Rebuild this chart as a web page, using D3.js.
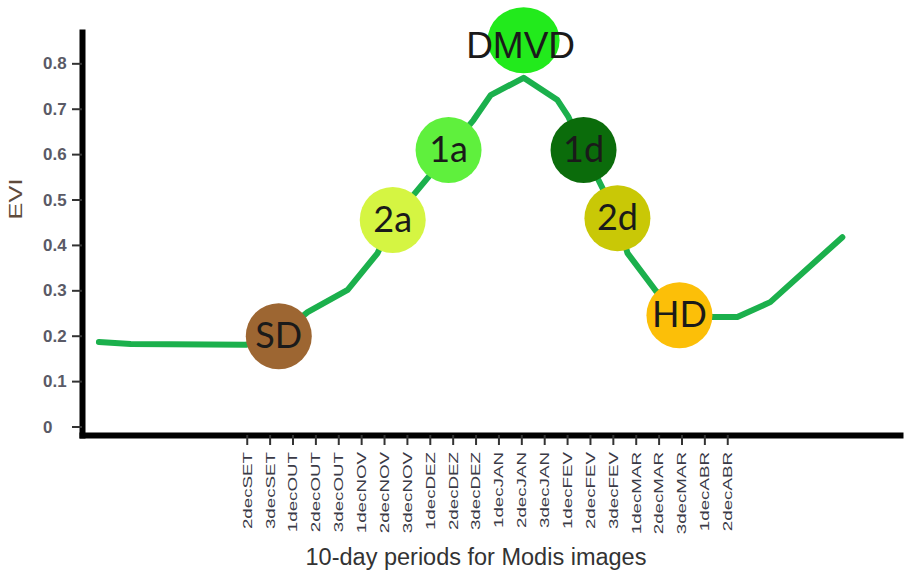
<!DOCTYPE html>
<html>
<head>
<meta charset="utf-8">
<script src="https://cdn.jsdelivr.net/npm/d3@7"></script>
<style>
  html, body { margin: 0; padding: 0; background: #fff; }
  svg { display: block; }
</style>
</head>
<body>
<svg id="chart" width="906" height="573"></svg>
<script>
// ---- data ----
const periods = ["2decSET","3decSET","1decOUT","2decOUT","3decOUT","1decNOV","2decNOV","3decNOV",
  "1decDEZ","2decDEZ","3decDEZ","1decJAN","2decJAN","3decJAN","1decFEV","2decFEV","3decFEV",
  "1decMAR","2decMAR","3decMAR","1decABR","2decABR"];
const yTicks = [0, 0.1, 0.2, 0.3, 0.4, 0.5, 0.6, 0.7, 0.8];

// EVI profile (x in 10-day period units, 0 = 2decSET)
const curvePeriod = [-6.46, -5.07, -0.04, 1.40, 2.66, 4.41, 5.72, 6.38, 7.90, 8.82, 9.91, 10.66,
  12.10, 13.58, 14.06, 14.72, 16.20, 16.64, 17.86, 18.91, 20.39, 21.44, 22.88, 26.03];
const curveEVI = [0.186, 0.182, 0.180, 0.200, 0.252, 0.301, 0.382, 0.455, 0.547, 0.609, 0.675, 0.730,
  0.768, 0.719, 0.682, 0.609, 0.459, 0.382, 0.300, 0.245, 0.241, 0.241, 0.274, 0.417];

// phenological stages
const stageNames = ["SD", "2a", "1a", "DMVD", "1d", "2d", "HD"];
const stagePeriod = [1.40, 6.38, 8.82, 12.10, 14.72, 16.20, 18.91];
const stageEVI = [0.199, 0.455, 0.609, 0.851, 0.609, 0.459, 0.245];
const stageColors = ["#9d6632", "#d5f542", "#5ff03d", "#22ea1c", "#0b6c0b", "#c9c806", "#fcbf08"];

// ---- drawing ----
const svg = d3.select("#chart");
const x = d3.scaleLinear().domain([-7.2, 28.55]).range([82, 900]);
const y = d3.scaleLinear().domain([-0.0187, 0.869]).range([435, 32]);

// line
const line = d3.line().x((d, i) => x(curvePeriod[i])).y(d => y(d));
svg.append("path")
  .datum(curveEVI)
  .attr("d", line)
  .attr("fill", "none")
  .attr("stroke", "#1bb04c")
  .attr("stroke-width", 6)
  .attr("stroke-linejoin", "round")
  .attr("stroke-linecap", "round");

// stage markers
const stages = stageNames.map((n, i) => ({ name: n, px: stagePeriod[i], v: stageEVI[i], c: stageColors[i] }));
const g = svg.append("g");
g.selectAll("ellipse").data(stages).join("ellipse")
  .attr("cx", d => x(d.px))
  .attr("cy", d => y(d.v))
  .attr("rx", d => d.name === "DMVD" ? 36 : 33)
  .attr("ry", 33)
  .attr("fill", d => d.c);
g.selectAll("text").data(stages).join("text")
  .attr("x", d => x(d.px) + (d.name === "DMVD" ? -3 : 0))
  .attr("y", d => y(d.v) + (d.name === "DMVD" ? 18 : 12))
  .attr("text-anchor", "middle")
  .attr("font-family", d => d.name === "DMVD" ? "Liberation Sans, Arial, sans-serif" : "Lato, 'Open Sans', sans-serif")
  .attr("font-size", d => d.name === "DMVD" ? 37 : 36)
  .attr("fill", "#1a1a1a")
  .text(d => d.name);

// y axis
const yAxis = svg.append("g")
  .attr("transform", "translate(82,0)")
  .call(d3.axisLeft(y).tickValues(yTicks).tickSize(10).tickSizeOuter(0)
    .tickFormat(d => d === 0 ? "0" : d3.format(".1f")(d)));
yAxis.select(".domain").attr("stroke", "#000").attr("stroke-width", 6).attr("stroke-linecap", "square");
yAxis.selectAll(".tick line").attr("stroke", "#333").attr("stroke-width", 2);
yAxis.selectAll(".tick text")
  .attr("x", 0).attr("dy", "0.35em")
  .attr("text-anchor", "start")
  .attr("transform", "translate(-39,0) scale(1.06,1)")
  .attr("font-family", "Liberation Sans, Arial, sans-serif")
  .attr("font-weight", "bold")
  .attr("font-size", 16)
  .attr("fill", "#5a5a66");

// x axis
const xAxis = svg.append("g")
  .attr("transform", "translate(0,435)")
  .call(d3.axisBottom(x).tickValues(d3.range(periods.length)).tickSize(10).tickSizeOuter(0)
    .tickFormat(i => periods[i]));
xAxis.select(".domain").attr("stroke", "#000").attr("stroke-width", 6).attr("stroke-linecap", "square");
xAxis.selectAll(".tick line").attr("stroke", "#333").attr("stroke-width", 2);
xAxis.selectAll(".tick text")
  .attr("x", 0).attr("y", 0).attr("dy", "0.35em")
  .attr("text-anchor", "end")
  .attr("transform", "translate(0,17) rotate(-90) scale(1.5,1)")
  .attr("font-family", "Liberation Sans, Arial, sans-serif")
  .attr("font-size", 12.5)
  .attr("fill", "#3a3a46");

// axis titles
svg.append("text")
  .attr("transform", "translate(16,199) rotate(-90) scale(1.45,1)")
  .attr("dy", "0.35em")
  .attr("text-anchor", "middle")
  .attr("font-family", "Liberation Sans, Arial, sans-serif")
  .attr("font-size", 17.5)
  .attr("fill", "#5e4b3c")
  .text("EVI");

svg.append("text")
  .attr("x", 476).attr("y", 565)
  .attr("text-anchor", "middle")
  .attr("font-family", "Liberation Sans, Arial, sans-serif")
  .attr("font-size", 23.5)
  .attr("fill", "#333")
  .text("10-day periods for Modis images");
</script>
</body>
</html>
